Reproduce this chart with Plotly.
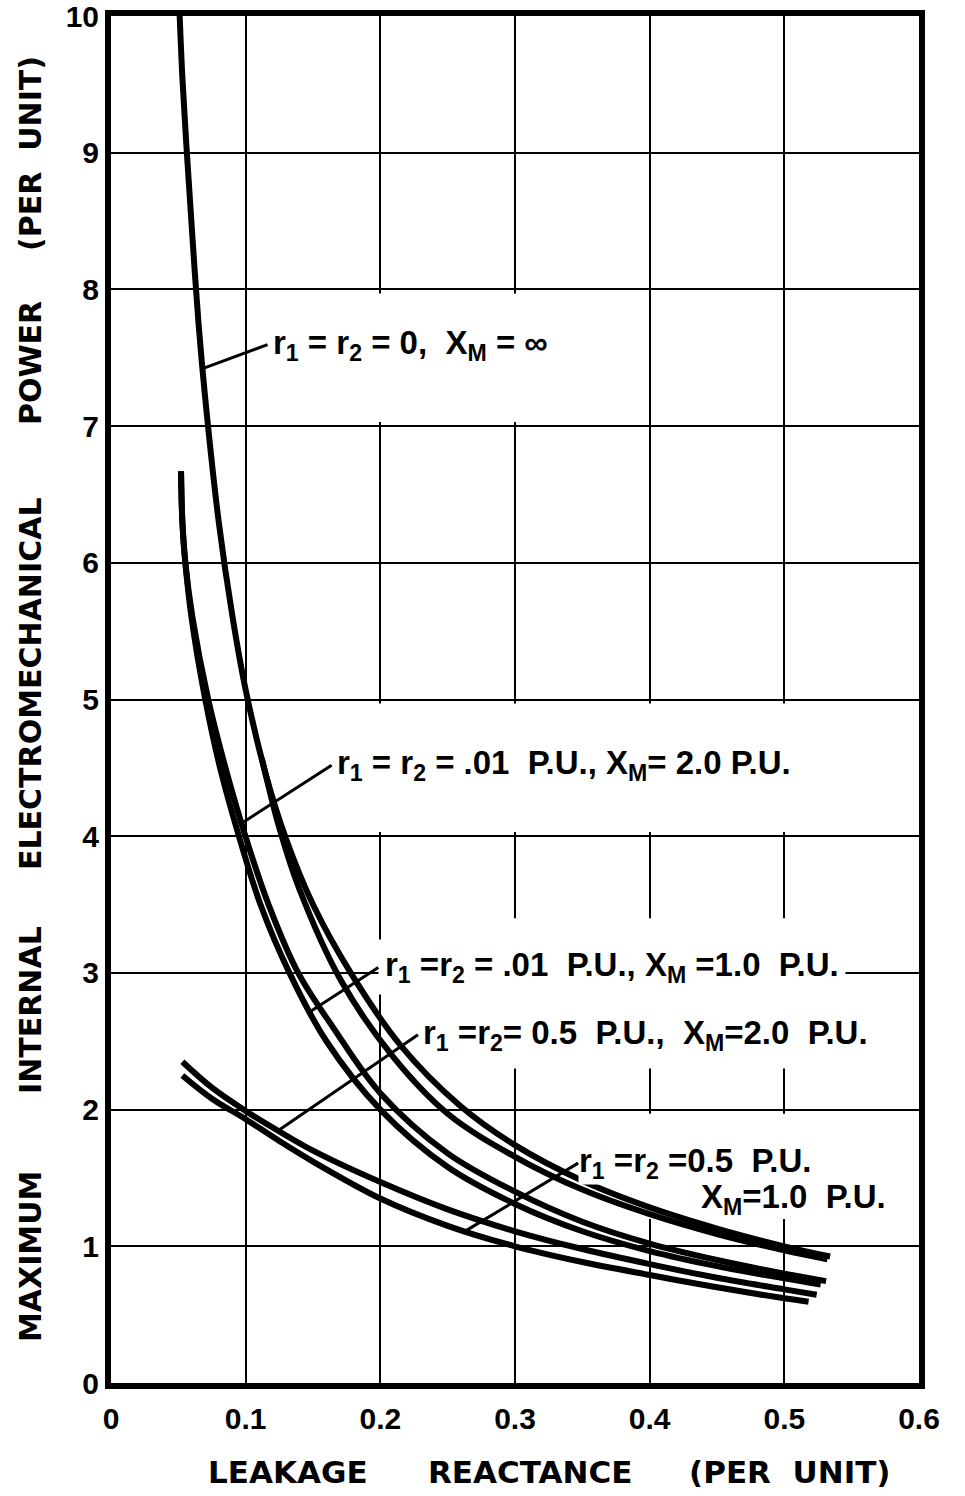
import numpy as np
import plotly.graph_objects as go

# ---------------- data ----------------
x_tick_vals = [0, 0.1, 0.2, 0.3, 0.4, 0.5, 0.6]
x_tick_text = ["0", "0.1", "0.2", "0.3", "0.4", "0.5", "0.6"]
y_tick_vals = [0, 1, 2, 3, 4, 5, 6, 7, 8, 9, 10]
y_tick_text = ["0", "1", "2", "3", "4", "5", "6", "7", "8", "9", "10"]

# r1 = r2 = 0, XM = infinity
a_x = [0.051, 0.053, 0.056, 0.060, 0.065, 0.070, 0.080, 0.090, 0.100, 0.115, 0.130, 0.150, 0.178, 0.215, 0.259, 0.300, 0.350, 0.400, 0.450, 0.500, 0.534]
a_y = [10.0, 9.55, 9.05, 8.45, 7.75, 7.2, 6.3, 5.62, 5.07, 4.45, 3.98, 3.5, 3.0, 2.47, 2.03, 1.74, 1.48, 1.285, 1.13, 1.0, 0.925]
# second stroke running just inside the outer curve
a2_x = [0.112, 0.125, 0.140, 0.171, 0.210, 0.250, 0.300, 0.350, 0.400, 0.450, 0.500, 0.532]
a2_y = [4.57, 4.06, 3.61, 2.94, 2.38, 1.97, 1.655, 1.415, 1.235, 1.09, 0.97, 0.905]
# r1 = r2 = .01 P.U., XM = 2.0 P.U.
b_x = [0.052, 0.053, 0.0552, 0.0605, 0.0722, 0.085, 0.0998, 0.117, 0.139, 0.165, 0.200, 0.250, 0.300, 0.350, 0.400, 0.450, 0.500, 0.531]
b_y = [6.67, 6.3, 6.0, 5.6, 5.0, 4.5, 4.0, 3.5, 3.0, 2.6, 2.12, 1.68, 1.40, 1.18, 1.02, 0.90, 0.80, 0.745]
# r1 = r2 = .01 P.U., XM = 1.0 P.U.
c_x = [0.052, 0.053, 0.0552, 0.0598, 0.0700, 0.081, 0.095, 0.111, 0.1325, 0.160, 0.200, 0.250, 0.300, 0.350, 0.400, 0.450, 0.500, 0.527]
c_y = [6.67, 6.3, 6.0, 5.6, 5.0, 4.5, 4.0, 3.5, 3.0, 2.5, 2.0, 1.58, 1.31, 1.11, 0.965, 0.855, 0.765, 0.72]
# r1 = r2 = 0.5 P.U., XM = 2.0 P.U.
d_x = [0.053, 0.075, 0.100, 0.125, 0.150, 0.200, 0.250, 0.300, 0.350, 0.400, 0.450, 0.500, 0.524]
d_y = [2.35, 2.16, 1.99, 1.84, 1.70, 1.47, 1.27, 1.11, 0.98, 0.87, 0.77, 0.685, 0.645]
# r1 = r2 = 0.5 P.U., XM = 1.0 P.U.
e_x = [0.053, 0.075, 0.100, 0.125, 0.150, 0.200, 0.250, 0.300, 0.350, 0.400, 0.450, 0.500, 0.518]
e_y = [2.25, 2.08, 1.93, 1.77, 1.62, 1.35, 1.15, 1.00, 0.885, 0.79, 0.70, 0.62, 0.595]

# ---------------- figure ----------------
LAB = "Liberation Sans"
TIT = "DejaVu Sans"
W, H = 965, 1496
L, R, T, B = 111, 46, 16, 113
PW, PH = W - L - R, H - T - B

fig = go.Figure()
for xs, ys in [(a_x, a_y), (a2_x, a2_y), (b_x, b_y), (c_x, c_y), (d_x, d_y), (e_x, e_y)]:
    fig.add_trace(go.Scatter(x=xs, y=ys, mode="lines",
                             line=dict(color="black", width=6, shape="spline", smoothing=1.0),
                             showlegend=False, hoverinfo="skip"))

# white patches where the drawn grid is interrupted around the lettering (above grid, below curves)
for x0, x1, y0, y1 in [(0.15, 0.35, 7.03, 7.97), (0.15, 0.585, 4.03, 4.97),
                       (0.215, 0.545, 2.30, 3.40), (0.36, 0.585, 1.20, 1.97)]:
    fig.add_shape(type="rect", xref="x", yref="y", x0=x0, x1=x1, y0=y0, y1=y1,
                  fillcolor="white", line=dict(width=0), layer="between")

lab_font = dict(family=LAB, size=33, color="black", weight="bold")

def leader(text, xs, ys, hx, ax, ay, pad=4):
    hy = float(np.interp(hx, xs, ys))
    fig.add_annotation(x=hx, y=hy, xref="x", yref="y", text=text, showarrow=True,
                       ax=ax, ay=ay, xanchor="left", yanchor="middle",
                       arrowhead=0, arrowwidth=3, arrowcolor="black", standoff=0,
                       font=lab_font, bgcolor="white", borderpad=pad)

leader("r<sub>1</sub> = r<sub>2</sub> = 0,  X<sub>M</sub> = \u221e", a_x, a_y, 0.068, 65, -24)
leader("r<sub>1</sub> = r<sub>2</sub> = .01  P.U., X<sub>M</sub>= 2.0 P.U.", b_x, b_y, 0.097, 90, -58)
leader("r<sub>1</sub> =r<sub>2</sub> = .01  P.U., X<sub>M</sub> =1.0  P.U.", c_x, c_y, 0.148, 68, -44, pad=6)
leader("r<sub>1</sub> =r<sub>2</sub>= 0.5  P.U.,  X<sub>M</sub>=2.0  P.U.", d_x, d_y, 0.124, 140, -96)
leader("r<sub>1</sub> =r<sub>2</sub> =0.5  P.U.", e_x, e_y, 0.263, 113, -68, pad=0)
fig.add_annotation(x=0.437, y=1.345, xref="x", yref="y", text="X<sub>M</sub>=1.0  P.U.",
                   showarrow=False, xanchor="left", yanchor="middle", font=lab_font)

# axis title words (hand-lettered, widely spaced)
ytitle_font = dict(family=TIT, size=30, color="black", weight="bold")
for word, py in [("MAXIMUM", 1257), ("INTERNAL", 1010), ("ELECTROMECHANICAL", 684),
                 ("POWER", 363), ("(PER\u00a0\u00a0UNIT)", 154)]:
    fig.add_annotation(x=(30 - L) / PW, y=(H - B - py) / PH, xref="paper", yref="paper",
                       xanchor="center", yanchor="middle",
                       text=word, textangle=-90, showarrow=False, font=ytitle_font)
xtitle_font = dict(family=TIT, size=31, color="black", weight="bold")
for word, px in [("LEAKAGE", 288), ("REACTANCE", 530), ("(PER\u00a0\u00a0UNIT)", 790)]:
    fig.add_annotation(x=(px - L) / PW, y=(H - B - 1472) / PH, xref="paper", yref="paper",
                       xanchor="center", yanchor="middle",
                       text=word, showarrow=False, font=xtitle_font)

tick_font = dict(family=LAB, size=30, color="black", weight="bold")
fig.update_xaxes(range=[0, 0.6], tickvals=x_tick_vals, ticktext=x_tick_text,
                 showgrid=True, gridcolor="black", gridwidth=2,
                 showline=True, linecolor="black", linewidth=6, mirror=True,
                 ticks="", ticklabelstandoff=4, tickfont=tick_font, zeroline=False,
                 automargin=False, ticklabeloverflow="allow")
fig.update_yaxes(range=[0, 10], tickvals=y_tick_vals, ticktext=y_tick_text,
                 showgrid=True, gridcolor="black", gridwidth=2,
                 showline=True, linecolor="black", linewidth=6, mirror=True,
                 ticks="", ticklabelstandoff=0, tickfont=tick_font, zeroline=False,
                 automargin=False, ticklabeloverflow="allow")
fig.update_layout(width=W, height=H,
                  margin=dict(l=L, r=R, t=T, b=B, autoexpand=False),
                  paper_bgcolor="white", plot_bgcolor="white", showlegend=False)

fig.write_html("out.html", config={"displayModeBar": False, "staticPlot": True},
               post_script="document.body.style.margin='0px';")
